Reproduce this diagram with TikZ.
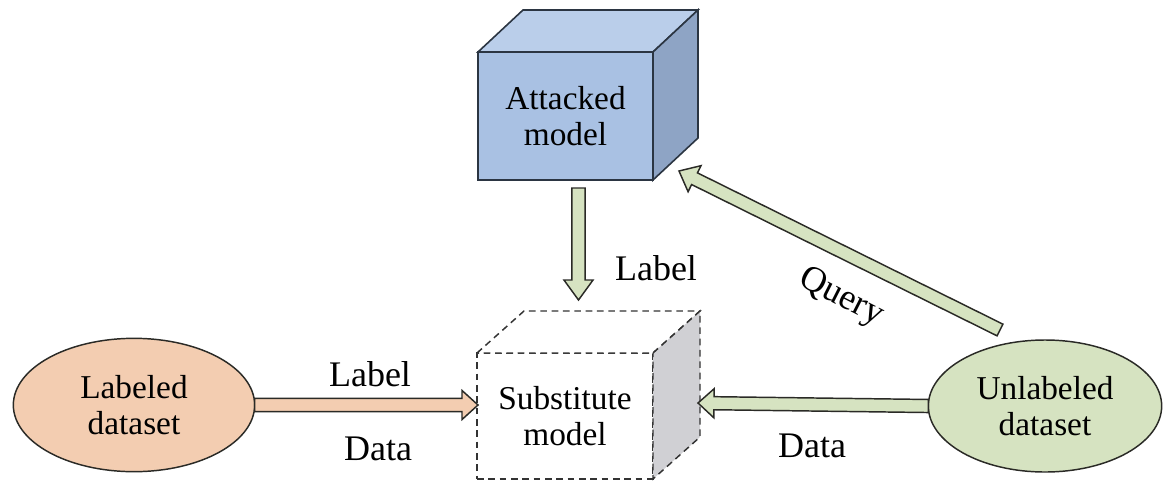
\documentclass[tikz,border=0pt]{standalone}
\usepackage{fontspec}
\setmainfont{Liberation Serif}
\usetikzlibrary{calc,shapes.geometric}

\definecolor{cubefront}{HTML}{A9C1E3}
\definecolor{cubetop}{HTML}{BACEEA}
\definecolor{cubeside}{HTML}{8EA4C5}
\definecolor{cubeline}{HTML}{2B3542}
\definecolor{peach}{HTML}{F3CDB1}
\definecolor{sage}{HTML}{D6E3C1}
\definecolor{sidegray}{HTML}{D0D0D4}
\definecolor{inkline}{HTML}{2A2A26}

\tikzset{
  boxtext/.style={font=\fontsize{25}{27}\selectfont, align=center},
  flowtext/.style={font=\fontsize{27}{30}\selectfont, inner sep=0pt},
  solidcube/.style={draw=cubeline, line width=1.2pt, line join=miter, outer sep=0pt, inner sep=0pt},
  ghostcube/.style={draw=black!80, line width=1.1pt, dash pattern=on 5pt off 3.5pt, outer sep=0pt, inner sep=0pt},
  dataset/.style={ellipse, draw=inkline, line width=1.1pt, inner sep=0pt, outer sep=0pt,
                  minimum width=181pt, minimum height=100pt, boxtext},
  arrowline/.style={draw=inkline, line width=1.1pt, line join=miter}
}

% block arrow: #1 tail, #2 tip, #3 fill colour, #4 head length
\newcommand\blockarrow[4]{%
  \path coordinate (bah) at ($(#2)!#4!(#1)$);
  \draw[arrowline, fill=#3]
    ($(#1)!4.9pt!90:(#2)$) -- ($(bah)!4.9pt!-90:(#1)$) -- ($(bah)!10.9pt!-90:(#1)$)
    -- (#2) -- ($(bah)!10.9pt!90:(#1)$) -- ($(bah)!4.9pt!90:(#1)$)
    -- ($(#1)!4.9pt!-90:(#2)$) -- cycle;
}

\begin{document}
\begin{tikzpicture}[x=0.75pt, y=-0.75pt]
  \useasboundingbox (0,0) rectangle (1163,482);

  % attacked model cube
  \node[solidcube, fill=cubefront, minimum width=131.25pt, minimum height=96pt] (att) at (565.5,116) {};
  \draw[solidcube, fill=cubetop] (att.north west) -- ++(45,-42) -- ++(175,0) -- (att.north east) -- cycle;
  \draw[solidcube, fill=cubeside] (att.north east) -- ++(45,-42) -- ++(0,128) -- (att.south east) -- cycle;
  \node[boxtext] at (att.center) {Attacked\\model};

  % substitute model cube
  \node[ghostcube, fill=white, minimum width=132pt, minimum height=94.5pt] (sub) at (565,416) {};
  \draw[ghostcube, fill=white] (sub.north west) -- ++(47,-42) -- ++(176,0) -- (sub.north east) -- cycle;
  \draw[ghostcube, fill=sidegray] (sub.north east) -- ++(47,-42) -- ++(0,126) -- (sub.south east) -- cycle;
  \node[boxtext] at (sub.center) {Substitute\\model};

  % datasets
  \node[dataset, fill=peach] (lab) at (134,405) {Labeled\\dataset};
  \node[dataset, fill=sage, minimum width=175pt, minimum height=99pt] (unl) at (1045,406) {Unlabeled\\dataset};

  % connector end points
  \coordinate (labtip) at (478,405);
  \coordinate (unltip) at (698,403);
  \coordinate (lbltail) at (578.5,188);
  \coordinate (lbltip) at (578.5,300);
  \coordinate (qtail) at (1000,330);
  \coordinate (qtip) at (679,171);

  % connectors
  \blockarrow{lab.east}{labtip}{peach}{12pt}
  \blockarrow{unl.west}{unltip}{sage}{12pt}
  \blockarrow{lbltail}{lbltip}{sage}{15pt}
  \blockarrow{qtail}{qtip}{sage}{13pt}

  % connector labels
  \node[flowtext] (t1) at (656,268) {Label};
  \node[flowtext] (t2) at (370,374) {Label};
  \node[flowtext] (t3) at (378,449) {Data};
  \node[flowtext] (t4) at (812,446) {Data};
  \node[flowtext, rotate=-27] (t5) at (841,298) {Query};
\end{tikzpicture}
\end{document}
